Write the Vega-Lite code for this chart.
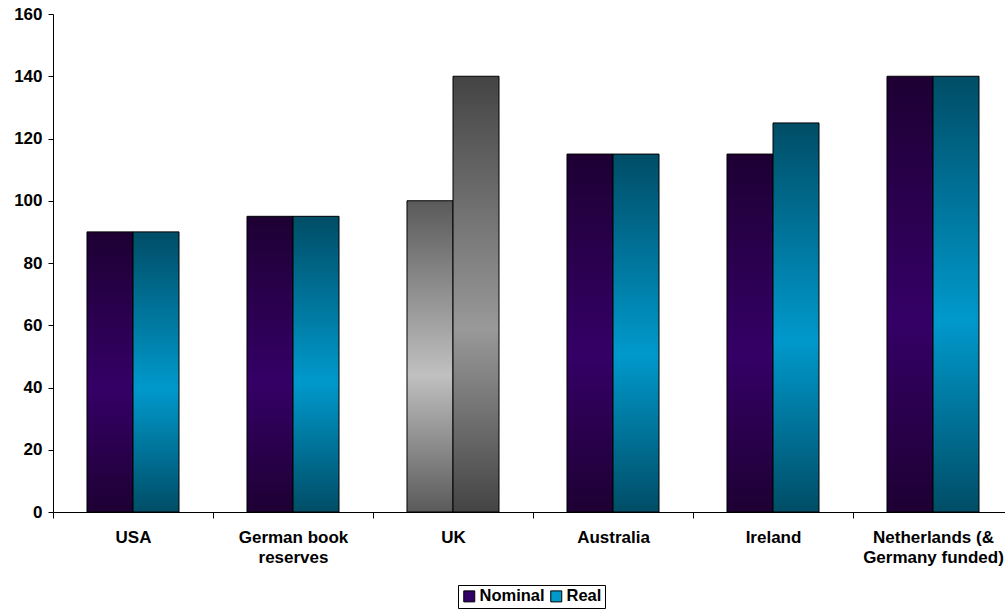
{
  "$schema": "https://vega.github.io/schema/vega-lite/v6.json",
  "width": 960,
  "height": 498,
  "autosize": {"type": "none"},
  "padding": {"left": 53, "top": 14, "right": 0, "bottom": 101},
  "background": "white",
  "config": {
    "view": {"stroke": null},
    "font": "Liberation Sans",
    "axis": {
      "labelFont": "Liberation Sans",
      "labelFontWeight": "bold",
      "labelFontSize": 17,
      "labelColor": "black",
      "domainColor": "black",
      "tickColor": "black",
      "grid": false,
      "title": null
    }
  },
  "data": {
    "values": [
      {"country": "USA", "series": "Nominal", "value": 90},
      {"country": "USA", "series": "Real", "value": 90},
      {"country": "German book|reserves", "series": "Nominal", "value": 95},
      {"country": "German book|reserves", "series": "Real", "value": 95},
      {"country": "UK", "series": "Nominal", "value": 100},
      {"country": "UK", "series": "Real", "value": 140},
      {"country": "Australia", "series": "Nominal", "value": 115},
      {"country": "Australia", "series": "Real", "value": 115},
      {"country": "Ireland", "series": "Nominal", "value": 115},
      {"country": "Ireland", "series": "Real", "value": 125},
      {"country": "Netherlands (&|Germany funded)", "series": "Nominal", "value": 140},
      {"country": "Netherlands (&|Germany funded)", "series": "Real", "value": 140}
    ]
  },
  "encoding": {
    "x": {
      "field": "country",
      "type": "nominal",
      "sort": ["USA", "German book|reserves", "UK", "Australia", "Ireland", "Netherlands (&|Germany funded)"],
      "scale": {"paddingInner": 0, "paddingOuter": 0},
      "axis": {
        "labelAngle": 0,
        "tickBand": "extent",
        "tickSize": 6,
        "labelPadding": 11,
        "labelLineHeight": 20,
        "labelBaseline": "top",
        "labelExpr": "split(datum.label, '|')"
      }
    },
    "xOffset": {
      "field": "series",
      "type": "nominal",
      "sort": ["Nominal", "Real"],
      "scale": {"paddingInner": 0, "paddingOuter": 0.739}
    },
    "y": {
      "field": "value",
      "type": "quantitative",
      "scale": {"domain": [0, 160], "nice": false},
      "axis": {
        "values": [0, 20, 40, 60, 80, 100, 120, 140, 160],
        "tickSize": 5,
        "labelPadding": 6
      }
    }
  },
  "layer": [
    {
      "transform": [{"filter": "datum.series === 'Nominal' && datum.country !== 'UK'"}],
      "mark": {
        "type": "bar",
        "stroke": "black",
        "strokeWidth": 1,
        "fill": {
          "gradient": "linear", "x1": 0, "y1": 0, "x2": 0, "y2": 1,
          "stops": [
            {"offset": 0, "color": "#1e0033"},
            {"offset": 0.56, "color": "#340066"},
            {"offset": 1, "color": "#1e0033"}
          ]
        }
      }
    },
    {
      "transform": [{"filter": "datum.series === 'Real' && datum.country !== 'UK'"}],
      "mark": {
        "type": "bar",
        "stroke": "black",
        "strokeWidth": 1,
        "fill": {
          "gradient": "linear", "x1": 0, "y1": 0, "x2": 0, "y2": 1,
          "stops": [
            {"offset": 0, "color": "#004d66"},
            {"offset": 0.56, "color": "#0099cc"},
            {"offset": 1, "color": "#004d66"}
          ]
        }
      }
    },
    {
      "transform": [{"filter": "datum.series === 'Nominal' && datum.country === 'UK'"}],
      "mark": {
        "type": "bar",
        "stroke": "black",
        "strokeWidth": 1,
        "fill": {
          "gradient": "linear", "x1": 0, "y1": 0, "x2": 0, "y2": 1,
          "stops": [
            {"offset": 0, "color": "#5a5a5a"},
            {"offset": 0.56, "color": "#c0c0c0"},
            {"offset": 1, "color": "#5a5a5a"}
          ]
        }
      }
    },
    {
      "transform": [{"filter": "datum.series === 'Real' && datum.country === 'UK'"}],
      "mark": {
        "type": "bar",
        "stroke": "black",
        "strokeWidth": 1,
        "fill": {
          "gradient": "linear", "x1": 0, "y1": 0, "x2": 0, "y2": 1,
          "stops": [
            {"offset": 0, "color": "#444444"},
            {"offset": 0.58, "color": "#999999"},
            {"offset": 1, "color": "#444444"}
          ]
        }
      }
    },
    {
      "mark": {"type": "bar", "opacity": 0},
      "encoding": {
        "color": {
          "field": "series",
          "type": "nominal",
          "scale": {"domain": ["Nominal", "Real"], "range": ["#330066", "#0099cc"]},
          "legend": {
            "title": null,
            "orient": "none",
            "direction": "horizontal",
            "legendX": 405,
            "legendY": 571,
            "strokeColor": "black",
            "padding": 3,
            "symbolType": "square",
            "symbolSize": 121,
            "symbolOpacity": 1,
            "symbolStrokeColor": "black",
            "symbolStrokeWidth": 1,
            "labelFont": "Liberation Sans",
            "labelFontWeight": "bold",
            "labelFontSize": 16.5,
            "labelColor": "black",
            "labelOffset": 2,
            "columnPadding": 3
          }
        }
      }
    }
  ]
}
